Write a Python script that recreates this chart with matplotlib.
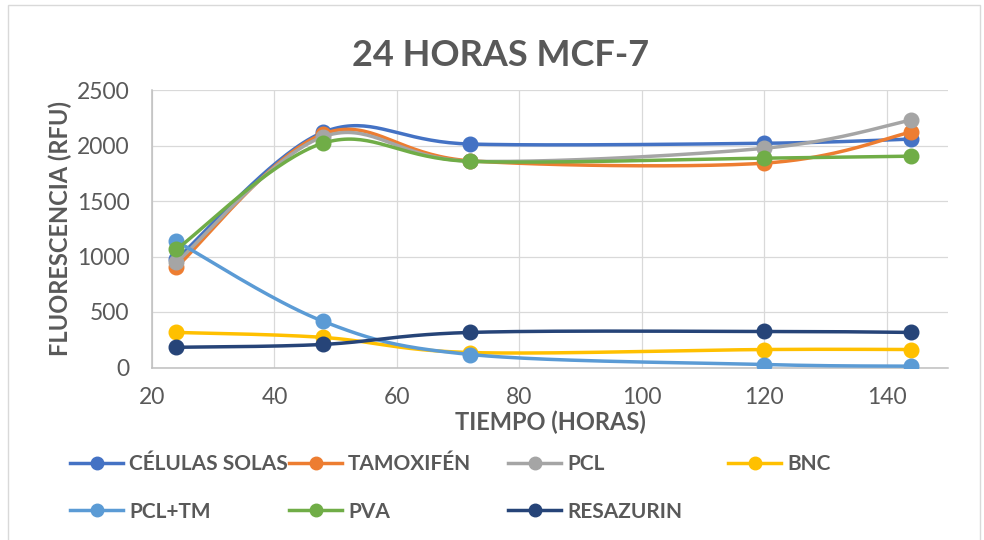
import matplotlib
matplotlib.use("Agg")
import matplotlib.pyplot as plt
from matplotlib.lines import Line2D
from matplotlib.patches import Rectangle
import numpy as np

plt.rcParams['font.family'] = ['Lato', 'DejaVu Sans']

hours = [24, 48, 72, 120, 144]
celulas_solas = [975, 2120, 2013, 2020, 2058]
tamoxifen = [905, 2105, 1862, 1841, 2121]
pcl = [948, 2080, 1859, 1975, 2229]
bnc = [316, 271, 135, 162, 162]
pcl_tm = [1137, 415, 117, 27, 12]
pva = [1065, 2022, 1857, 1886, 1904]
resazurin = [182, 208, 316, 325, 316]

names = ["CÉLULAS SOLAS", "TAMOXIFÉN", "PCL", "BNC", "PCL+TM", "PVA", "RESAZURIN"]
series = [celulas_solas, tamoxifen, pcl, bnc, pcl_tm, pva, resazurin]
colors = ["#4472C4", "#ED7D31", "#A5A5A5", "#FFC000", "#5B9BD5", "#70AD47", "#264478"]

text_col = "#595959"


def smooth(x, y, n=40):
    # Excel-like smoothed line: cubic bezier through the points
    p = np.column_stack([x, y]).astype(float)
    pts = np.vstack([p[0], p, p[-1]])
    out = []
    t = np.linspace(0, 1, n)[:, None]
    for i in range(1, len(pts) - 2):
        p0, p1, p2, p3 = pts[i - 1], pts[i], pts[i + 1], pts[i + 2]
        c1 = p1 + (p2 - p0) / 6
        c2 = p2 - (p3 - p1) / 6
        seg = ((1 - t) ** 3) * p1 + 3 * ((1 - t) ** 2) * t * c1 + 3 * (1 - t) * t ** 2 * c2 + t ** 3 * p2
        out.append(seg if i == 1 else seg[1:])
    out = np.vstack(out)
    return out[:, 0], out[:, 1]


fig = plt.figure(figsize=(9.84, 5.4), dpi=100)
ax = fig.add_axes([152 / 984, 1 - 367.5 / 540, (948 - 152) / 984, (367.5 - 90) / 540])

handles = []
for k, (vals, c, nm) in enumerate(zip(series, colors, names)):
    sx, sy = smooth(hours, vals)
    ax.plot(sx, sy, color=c, lw=2.5, solid_capstyle="round", zorder=3 + k)
    ax.plot(hours, vals, 'o', color=c, ms=10.5, zorder=3 + k)
    handles.append(Line2D([], [], color=c, lw=2.5, marker='o', ms=9, label=nm))

ax.set_xlim(20, 150)
ax.set_ylim(0, 2500)
ax.set_xticks(range(20, 141, 20))
ax.set_yticks(range(0, 2501, 500))
ax.grid(True, color="#D9D9D9", lw=0.9)
ax.set_axisbelow(True)
for s in ["top", "right"]:
    ax.spines[s].set_visible(False)
for s in ["left", "bottom"]:
    ax.spines[s].set_color("#BFBFBF")
    ax.spines[s].set_linewidth(1.1)
ax.tick_params(length=0, labelsize=16.5, colors=text_col)
ax.tick_params(axis="y", pad=16)
ax.tick_params(axis="x", pad=14)

fig.text(501 / 984, 1 - 55 / 540, "24 HORAS MCF-7", ha="center", va="center",
         fontsize=26, fontweight="bold", color=text_col)
fig.text(550 / 984, 1 - 422 / 540, "TIEMPO (HORAS)", ha="center", va="center",
         fontsize=17, fontweight="bold", color=text_col)
fig.text(60 / 984, 1 - 229 / 540, "FLUORESCENCIA (RFU)", ha="center", va="center",
         rotation=90, fontsize=17, fontweight="bold", color=text_col)

# legend: 4 columns, filled row by row like Excel
col_x = [70, 289, 508, 728]
for j in range(4):
    hs = [handles[j]] + ([handles[j + 4]] if j + 4 < len(handles) else [])
    leg = fig.legend(handles=hs, loc="upper left", bbox_to_anchor=(col_x[j] / 984, 1 - 454 / 540),
                     frameon=False, fontsize=15, handlelength=2.55, handletextpad=0.28,
                     labelspacing=1.32, borderpad=0, borderaxespad=0)
    for t in leg.get_texts():
        t.set_color(text_col)
        t.set_fontweight("bold")

fig.patches.append(Rectangle((7.5 / 984, -0.01), (980 - 7.5) / 984, 1 - 5 / 540 + 0.01,
                             transform=fig.transFigure, fill=False, edgecolor="#D9D9D9", lw=1))

fig.savefig("out.png", dpi=100)
